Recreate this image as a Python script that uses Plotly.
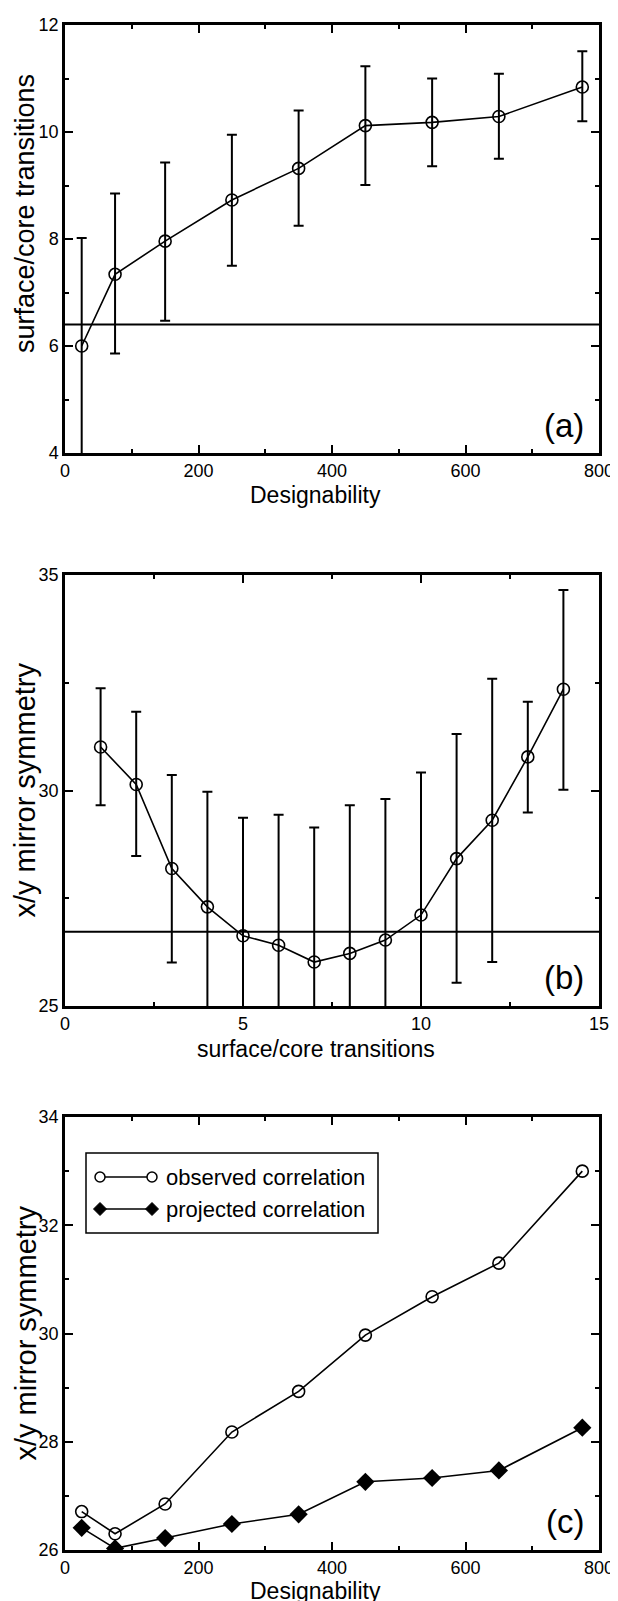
import plotly.graph_objects as go

W, H = 618, 1601

# ---------------- data ----------------
# Panel (a): surface/core transitions vs designability
des_x = [25, 75, 150, 250, 350, 450, 550, 650, 775]
sc_mean = [6.0, 7.34, 7.96, 8.73, 9.32, 10.12, 10.18, 10.29, 10.84]
sc_hi = [8.02, 8.85, 9.43, 9.95, 10.40, 11.23, 11.00, 11.09, 11.51]
sc_lo = [3.98, 5.86, 6.47, 7.50, 8.25, 9.01, 9.36, 9.50, 10.20]
sc_ref = 6.4

# Panel (b): mirror symmetry vs surface/core transitions
tr_x = [1, 2, 3, 4, 5, 6, 7, 8, 9, 10, 11, 12, 13, 14]
mir_mean = [31.01, 30.14, 28.19, 27.30, 26.63, 26.41, 26.02, 26.22, 26.53, 27.11, 28.42, 29.31, 30.78, 32.35]
mir_hi = [32.37, 31.83, 30.36, 29.97, 29.37, 29.44, 29.14, 29.66, 29.80, 30.42, 31.31, 32.59, 32.06, 34.65]
mir_lo = [29.66, 28.48, 26.01, 24.60, 23.90, 23.40, 22.90, 22.80, 23.30, 23.80, 25.54, 26.02, 29.49, 30.02]
mir_ref = 26.72

# Panel (c): mirror symmetry vs designability
obs_corr = [26.71, 26.30, 26.85, 28.18, 28.93, 29.97, 30.68, 31.30, 33.00]
proj_corr = [26.41, 26.03, 26.22, 26.48, 26.66, 27.26, 27.33, 27.47, 28.26]

legend_names = ["observed correlation", "projected correlation"]
panel_labels = ["(a)", "(b)", "(c)"]
x_titles = ["Designability", "surface/core transitions", "Designability"]
y_titles = ["surface/core transitions", "x/y mirror symmetry", "x/y mirror symmetry"]

FONT = "Liberation Sans, Arial, Helvetica, sans-serif"

# ---------------- layout helpers ----------------
def px_x(p):
    return p / W

def px_y(p):
    return 1 - p / H

XL, XR = 57, 591
XDOM = [px_x(XL), px_x(XR)]
FR_A = (17, 445)
FR_B = (567, 998)
FR_C = (1109, 1542)
DOM_A = [px_y(FR_A[1]), px_y(FR_A[0])]
DOM_B = [px_y(FR_B[1]), px_y(FR_B[0])]
DOM_C = [px_y(FR_C[1]), px_y(FR_C[0])]


def axis(rng, dtick, mdtick, domain, anchor, tick0=0):
    return dict(
        range=rng, domain=domain, anchor=anchor,
        showline=True, linecolor="black", linewidth=2.5, mirror="ticks",
        ticks="inside", ticklen=8, tickwidth=1.5, tickcolor="black",
        tick0=tick0, dtick=dtick,
        minor=dict(ticks="inside", ticklen=4, tickwidth=1.5, tickcolor="black",
                   tick0=tick0, dtick=mdtick, showgrid=False),
        showgrid=False, zeroline=False, automargin=False, fixedrange=True,
        tickfont=dict(family=FONT, size=18, color="black"),
    )


def errs(mean, hi, lo):
    plus = [round(h - m, 3) for h, m in zip(hi, mean)]
    minus = [round(m - l, 3) for m, l in zip(mean, lo)]
    return plus, minus


fig = go.Figure()

line_style = dict(color="black", width=1.6)
open_circle = dict(symbol="circle-open", size=12, color="black", line=dict(width=1.6, color="black"))

pa, ma = errs(sc_mean, sc_hi, sc_lo)
fig.add_trace(go.Scatter(
    x=des_x, y=sc_mean, mode="lines+markers", xaxis="x", yaxis="y",
    line=line_style, marker=open_circle,
    error_y=dict(type="data", symmetric=False, array=pa, arrayminus=ma,
                 color="black", thickness=2, width=5),
))

pb, mb = errs(mir_mean, mir_hi, mir_lo)
fig.add_trace(go.Scatter(
    x=tr_x, y=mir_mean, mode="lines+markers", xaxis="x2", yaxis="y2",
    line=line_style, marker=open_circle,
    error_y=dict(type="data", symmetric=False, array=pb, arrayminus=mb,
                 color="black", thickness=2, width=5),
))

fig.add_trace(go.Scatter(
    x=des_x, y=obs_corr, mode="lines+markers", xaxis="x3", yaxis="y3",
    name=legend_names[0], line=line_style, marker=open_circle,
))
fig.add_trace(go.Scatter(
    x=des_x, y=proj_corr, mode="lines+markers", xaxis="x3", yaxis="y3",
    name=legend_names[1], line=line_style,
    marker=dict(symbol="diamond", size=14, color="black"),
))

shapes = [
    dict(type="line", xref="x domain", x0=0, x1=1, yref="y", y0=sc_ref, y1=sc_ref,
         line=dict(color="black", width=2), layer="above"),
    dict(type="line", xref="x2 domain", x0=0, x1=1, yref="y2", y0=mir_ref, y1=mir_ref,
         line=dict(color="black", width=2), layer="above"),
]

# custom legend box for panel (c)
lx0, lx1, ly0, ly1 = 78, 370, 1145, 1225
shapes.append(dict(type="rect", xref="paper", yref="paper",
                   x0=px_x(lx0), x1=px_x(lx1), y0=px_y(ly1), y1=px_y(ly0),
                   line=dict(color="black", width=1.5), fillcolor="white", layer="above"))
rows = [1169, 1201]
mk_l, mk_r, txt_x = lx0 + 14, lx0 + 66, lx0 + 78
for i, ry in enumerate(rows):
    shapes.append(dict(type="line", xref="paper", yref="paper",
                       x0=px_x(mk_l), x1=px_x(mk_r), y0=px_y(ry), y1=px_y(ry),
                       line=dict(color="black", width=1.5), layer="above"))
    for mx in (mk_l, mk_r):
        if i == 0:
            shapes.append(dict(type="circle", xref="paper", yref="paper",
                               xsizemode="pixel", ysizemode="pixel",
                               xanchor=px_x(mx), yanchor=px_y(ry),
                               x0=-5, x1=5, y0=-5, y1=5,
                               line=dict(color="black", width=1.5), fillcolor="white",
                               layer="above"))
        else:
            shapes.append(dict(type="path", xref="paper", yref="paper",
                               xsizemode="pixel", ysizemode="pixel",
                               xanchor=px_x(mx), yanchor=px_y(ry),
                               path="M -6.5 0 L 0 6.5 L 6.5 0 L 0 -6.5 Z",
                               line=dict(color="black", width=1), fillcolor="black",
                               layer="above"))

annotations = []
for i, ry in enumerate(rows):
    annotations.append(dict(text=legend_names[i], xref="paper", yref="paper",
                            x=px_x(txt_x), y=px_y(ry), xanchor="left", yanchor="middle",
                            showarrow=False, font=dict(family=FONT, size=22, color="black")))

# panel letters
for lab, xr, yr in zip(panel_labels, ["x domain", "x2 domain", "x3 domain"],
                       ["y domain", "y2 domain", "y3 domain"]):
    annotations.append(dict(text=lab, xref=xr, yref=yr, x=0.975, y=0.065,
                            xanchor="right", yanchor="middle", showarrow=False,
                            font=dict(family=FONT, size=33, color="black")))

# axis titles as annotations
xt_y = [FR_A[1] + 42, FR_B[1] + 43, FR_C[1] + 41]
for t, yy, xr in zip(x_titles, xt_y, ["x domain", "x2 domain", "x3 domain"]):
    annotations.append(dict(text=t, xref=xr, yref="paper", x=0.47, y=px_y(yy),
                            xanchor="center", yanchor="middle", showarrow=False,
                            font=dict(family=FONT, size=23, color="black")))

yt_c = [206, (FR_B[0] + FR_B[1]) / 2, (FR_C[0] + FR_C[1]) / 2]
yt_size = [27, 29, 29]
for t, yy, sz in zip(y_titles, yt_c, yt_size):
    annotations.append(dict(text=t, xref="paper", yref="paper", x=px_x(17), y=px_y(yy),
                            xanchor="center", yanchor="middle", textangle=-90,
                            showarrow=False, font=dict(family=FONT, size=sz, color="black")))

fig.update_layout(
    width=W, height=H,
    margin=dict(l=0, r=0, t=0, b=0, pad=0),
    paper_bgcolor="white", plot_bgcolor="white",
    showlegend=False,
    font=dict(family=FONT, color="black"),
    xaxis=axis([0, 800], 200, 100, XDOM, "y"),
    yaxis=axis([4, 12], 2, 1, DOM_A, "x"),
    xaxis2=axis([0, 15], 5, 2.5, XDOM, "y2"),
    yaxis2=axis([25, 35], 5, 2.5, DOM_B, "x2", tick0=25),
    xaxis3=axis([0, 800], 200, 100, XDOM, "y3"),
    yaxis3=axis([26, 34], 2, 1, DOM_C, "x3"),
    shapes=shapes,
    annotations=annotations,
)

fig.write_html("out.html")
